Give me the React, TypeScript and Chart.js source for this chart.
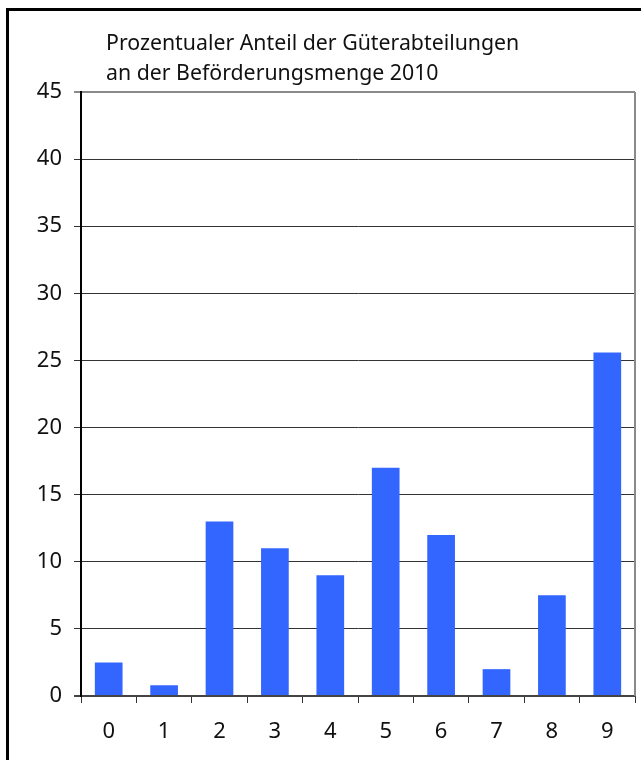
import React, { useEffect, useRef } from "react";
import { Chart, registerables } from "chart.js";

Chart.register(...registerables);

const categories = ["0", "1", "2", "3", "4", "5", "6", "7", "8", "9"];
const shares = [2.5, 0.8, 13, 11, 9, 17, 12, 2, 7.5, 25.6];
const titleLines = [
  "Prozentualer Anteil der Güterabteilungen",
  "an der Beförderungsmenge 2010",
];
const FONT = "'Noto Sans', sans-serif";

const frameBorderPlugin = {
  id: "frameBorder",
  afterDraw(chart: any) {
    const { ctx, chartArea } = chart;
    ctx.save();
    ctx.strokeStyle = "#8a8a8a";
    ctx.lineWidth = 2;
    ctx.beginPath();
    ctx.moveTo(chartArea.right, chartArea.top);
    ctx.lineTo(chartArea.right, chartArea.bottom);
    ctx.stroke();
    ctx.restore();
  },
};

export default function App() {
  const ref = useRef<HTMLCanvasElement | null>(null);
  useEffect(() => {
    if (!ref.current) return;
    const chart = new Chart(ref.current, {
      type: "bar",
      data: {
        labels: categories,
        datasets: [
          {
            data: shares,
            backgroundColor: "#3366ff",
            borderWidth: 0,
            barPercentage: 0.5,
            categoryPercentage: 1,
          },
        ],
      },
      options: {
        animation: false,
        responsive: false,
        maintainAspectRatio: false,
        layout: { padding: { left: 0, right: 6, top: 92, bottom: 0 } },
        plugins: { legend: { display: false }, tooltip: { enabled: false }, title: { display: false } },
        scales: {
          x: {
            offset: true,
            grid: {
              offset: true,
              drawOnChartArea: false,
              drawTicks: true,
              tickLength: 7,
              color: (c: any) => (c.index === categories.length ? "#8a8a8a" : "#333"),
              lineWidth: (c: any) => (c.index === categories.length ? 2 : 1),
            },
            border: { color: "#444", width: 2 },
            ticks: { color: "#111", font: { family: FONT, size: 22 }, padding: 16 },
            afterFit: (s: any) => {
              s.height = 64;
            },
          },
          y: {
            min: 0,
            max: 45,
            grid: {
              tickLength: 7,
              color: (c: any) => (c.tick && c.tick.value === 45 ? "#8a8a8a" : c.tick && c.tick.value === 0 ? "#444" : "#333"),
              lineWidth: (c: any) => (c.tick && (c.tick.value === 45 || c.tick.value === 0) ? 2 : 1),
            },
            border: { color: "#000", width: 2 },
            ticks: { stepSize: 5, color: "#111", font: { family: FONT, size: 22 }, padding: 12 },
            afterFit: (s: any) => {
              s.width = 81;
            },
          },
        },
      },
      plugins: [frameBorderPlugin],
    });
    return () => chart.destroy();
  }, []);

  return (
    <div style={{ position: "fixed", left: 0, top: 0, width: 641, height: 760, background: "#fff", overflow: "hidden" }}>
      <div
        style={{
          position: "absolute",
          left: 6,
          top: 8,
          width: 700,
          height: 800,
          borderLeft: "3px solid #000",
          borderTop: "3px solid #000",
        }}
      />
      <canvas ref={ref} width={641} height={760} style={{ position: "absolute", left: 0, top: 0, width: 641, height: 760 }} />
      <div
        style={{
          position: "absolute",
          left: 106,
          top: 27,
          fontFamily: FONT,
          fontSize: 21.3,
          lineHeight: "30px",
          color: "#111",
          whiteSpace: "nowrap",
        }}
      >
        {titleLines.map((t) => (
          <div key={t}>{t}</div>
        ))}
      </div>
    </div>
  );
}
